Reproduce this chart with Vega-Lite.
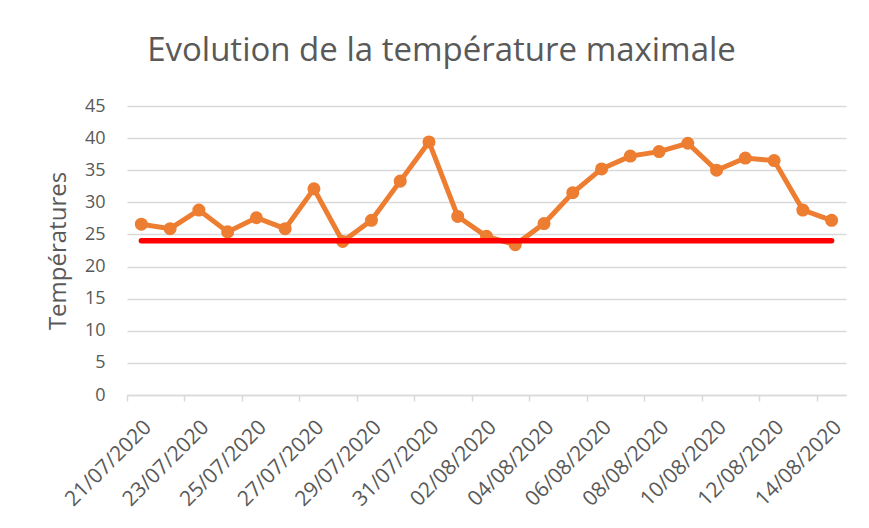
{
  "$schema": "https://vega.github.io/schema/vega-lite/v6.json",
  "width": 719,
  "height": 289,
  "autosize": {"type": "none"},
  "padding": {"left": 127, "top": 106, "right": 23, "bottom": 133},
  "background": "white",
  "title": {
    "text": "Evolution de la température maximale",
    "font": "Open Sans",
    "fontSize": 33,
    "fontWeight": "normal",
    "color": "#595959",
    "anchor": "middle",
    "dx": -45,
    "baseline": "alphabetic",
    "offset": 3
  },
  "data": {
    "values": [
      {"date": "21/07/2020", "temp": 26.6, "seuil": 24},
      {"date": "22/07/2020", "temp": 25.9, "seuil": 24},
      {"date": "23/07/2020", "temp": 28.8, "seuil": 24},
      {"date": "24/07/2020", "temp": 25.4, "seuil": 24},
      {"date": "25/07/2020", "temp": 27.6, "seuil": 24},
      {"date": "26/07/2020", "temp": 25.9, "seuil": 24},
      {"date": "27/07/2020", "temp": 32.1, "seuil": 24},
      {"date": "28/07/2020", "temp": 23.9, "seuil": 24},
      {"date": "29/07/2020", "temp": 27.2, "seuil": 24},
      {"date": "30/07/2020", "temp": 33.3, "seuil": 24},
      {"date": "31/07/2020", "temp": 39.4, "seuil": 24},
      {"date": "01/08/2020", "temp": 27.8, "seuil": 24},
      {"date": "02/08/2020", "temp": 24.7, "seuil": 24},
      {"date": "03/08/2020", "temp": 23.4, "seuil": 24},
      {"date": "04/08/2020", "temp": 26.7, "seuil": 24},
      {"date": "05/08/2020", "temp": 31.5, "seuil": 24},
      {"date": "06/08/2020", "temp": 35.2, "seuil": 24},
      {"date": "07/08/2020", "temp": 37.2, "seuil": 24},
      {"date": "08/08/2020", "temp": 37.9, "seuil": 24},
      {"date": "09/08/2020", "temp": 39.2, "seuil": 24},
      {"date": "10/08/2020", "temp": 35.0, "seuil": 24},
      {"date": "11/08/2020", "temp": 36.9, "seuil": 24},
      {"date": "12/08/2020", "temp": 36.5, "seuil": 24},
      {"date": "13/08/2020", "temp": 28.8, "seuil": 24},
      {"date": "14/08/2020", "temp": 27.2, "seuil": 24}
    ]
  },
  "layer": [
    {
      "mark": {
        "type": "line",
        "color": "#ED7D31",
        "strokeWidth": 5,
        "point": {"filled": true, "size": 170, "color": "#ED7D31", "opacity": 1}
      },
      "encoding": {
        "x": {
          "field": "date",
          "type": "ordinal",
          "sort": null,
          "scale": {"type": "band", "paddingInner": 0, "paddingOuter": 0},
          "axis": {
            "title": null,
            "values": ["21/07/2020", "23/07/2020", "25/07/2020", "27/07/2020", "29/07/2020", "31/07/2020", "02/08/2020", "04/08/2020", "06/08/2020", "08/08/2020", "10/08/2020", "12/08/2020", "14/08/2020"],
            "labelAngle": -45,
            "labelAlign": "right",
            "labelBaseline": "top",
            "labelFont": "Open Sans",
            "labelFontSize": 21,
            "labelColor": "#595959",
            "labelPadding": 21,
            "labelOffset": -1,
            "labelOverlap": false,
            "ticks": false,
            "grid": false,
            "domain": true,
            "domainColor": "#D9D9D9",
            "domainWidth": 1.5
          }
        },
        "y": {
          "field": "temp",
          "type": "quantitative",
          "scale": {"domain": [0, 45], "nice": false, "zero": true},
          "axis": {
            "title": "Températures",
            "titleFont": "Open Sans",
            "titleFontSize": 24,
            "titleFontWeight": "normal",
            "titleColor": "#595959",
            "titlePadding": 14,
            "values": [0, 5, 10, 15, 20, 25, 30, 35, 40, 45],
            "labelFont": "Open Sans",
            "labelFontSize": 18,
            "labelColor": "#595959",
            "labelPadding": 22,
            "ticks": false,
            "domain": false,
            "grid": true,
            "gridColor": "#D9D9D9",
            "gridWidth": 1.5
          }
        }
      }
    },
    {
      "mark": {"type": "line", "color": "#FF0000", "strokeWidth": 5.5, "strokeCap": "round"},
      "encoding": {
        "x": {
          "field": "date",
          "type": "ordinal",
          "sort": null,
          "axis": {
            "orient": "bottom",
            "title": null,
            "bandPosition": 0,
            "values": ["21/07/2020", "23/07/2020", "25/07/2020", "27/07/2020", "29/07/2020", "31/07/2020", "02/08/2020", "04/08/2020", "06/08/2020", "08/08/2020", "10/08/2020", "12/08/2020", "14/08/2020"],
            "labels": false,
            "ticks": true,
            "tickSize": 6,
            "tickColor": "#D9D9D9",
            "tickWidth": 1.5,
            "domain": false,
            "grid": false
          }
        },
        "y": {
          "field": "seuil",
          "type": "quantitative",
          "scale": {"domain": [0, 45], "nice": false, "zero": true},
          "axis": {
            "title": "Températures",
            "titleFont": "Open Sans",
            "titleFontSize": 24,
            "titleFontWeight": "normal",
            "titleColor": "#595959",
            "titlePadding": 14,
            "values": [0, 5, 10, 15, 20, 25, 30, 35, 40, 45],
            "labelFont": "Open Sans",
            "labelFontSize": 18,
            "labelColor": "#595959",
            "labelPadding": 22,
            "ticks": false,
            "domain": false,
            "grid": true,
            "gridColor": "#D9D9D9",
            "gridWidth": 1.5
          }
        }
      }
    }
  ],
  "resolve": {"axis": {"x": "independent"}},
  "config": {"view": {"stroke": null}}
}
